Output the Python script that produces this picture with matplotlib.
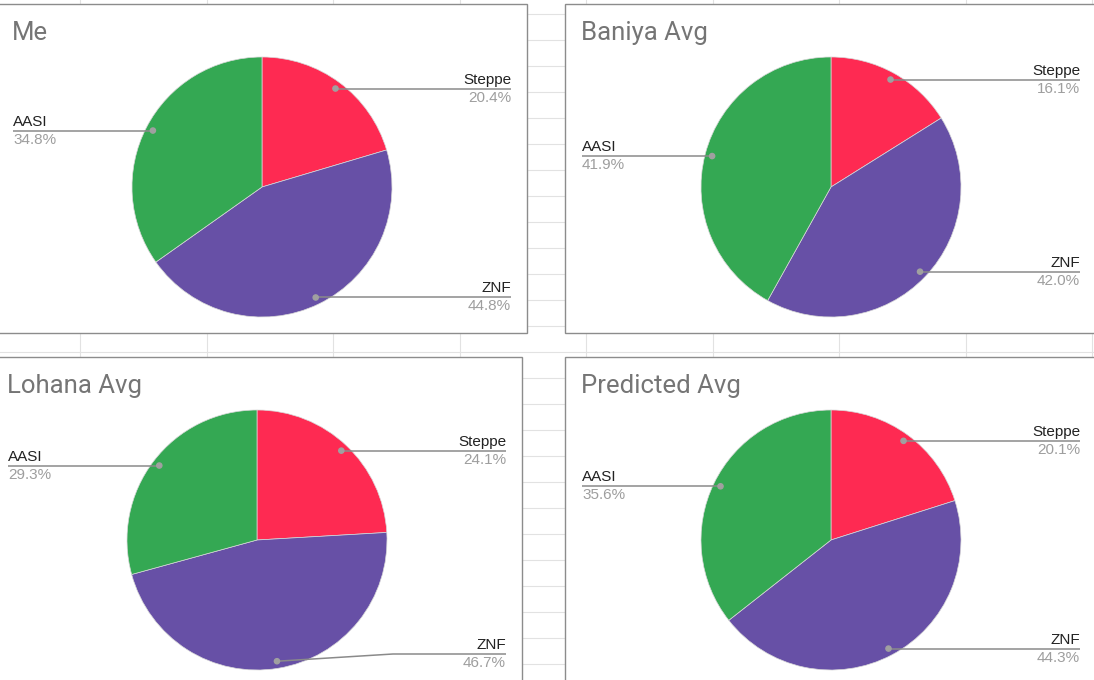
import numpy as np
import matplotlib
matplotlib.use("Agg")
import matplotlib.pyplot as plt
from matplotlib.patches import Rectangle, Circle

plt.rcParams['font.family'] = ['Roboto', 'DejaVu Sans']

# data
components = ["Steppe", "ZNF", "AASI"]
titles = ["Me", "Baniya Avg", "Lohana Avg", "Predicted Avg"]
me = [20.4, 44.8, 34.8]
baniya_avg = [16.1, 42.0, 41.9]
lohana_avg = [24.1, 46.7, 29.3]
predicted_avg = [20.1, 44.3, 35.6]
colors = ["#fe2a52", "#6750a6", "#34a853"]

W, H = 1094, 680
fig = plt.figure(figsize=(W / 100, H / 100), dpi=100)
ax = fig.add_axes([0, 0, 1, 1])
ax.set_xlim(0, W)
ax.set_ylim(0, H)
ax.set_aspect('equal')
ax.axis('off')


def Y(p):
    # pixel row (from top) -> data y
    return H - p


# spreadsheet gridlines in the background
for gx in np.arange(80, W, 126.5):
    ax.plot([gx, gx], [0, H], color="#e2e2e2", lw=0.8, zorder=0)
for gy in np.arange(14, H, 26):
    ax.plot([0, W], [Y(gy), Y(gy)], color="#e2e2e2", lw=0.8, zorder=0)

# chart centres (pixels from top-left) and radius
centres = [(262, 187), (831, 187), (257, 540), (831, 540)]
R = 130
series = [me, baniya_avg, lohana_avg, predicted_avg]
label_font = ['Liberation Sans', 'DejaVu Sans']

for title, vals, (cx, cy) in zip(titles, series, centres):
    # chart card
    ax.add_patch(Rectangle((cx - 266, Y(cy + 146)), 531, 329, facecolor="white",
                           edgecolor="#8c8c8c", lw=1.0, zorder=1))
    ax.text(cx - 250, Y(cy - 154), title, fontsize=18.5, color="#757575",
            ha="left", va="center", zorder=5)

    ax.pie(vals, colors=colors, center=(cx, Y(cy)), radius=R, startangle=90,
           counterclock=False, frame=True,
           wedgeprops=dict(edgecolor="#d8d8d8", linewidth=0.5, zorder=2))

    # leader lines and labels
    total = sum(vals)
    start = 0.0
    for name, v in zip(components, vals):
        mid = (start + v / 2) / total * 2 * np.pi
        start += v
        dx, dy = np.sin(mid), np.cos(mid)
        px, py = cx + 0.945 * R * dx, cy - 0.945 * R * dy
        right = dx > 0
        lx = cx + 249 if right else cx - 249
        ly = min(py, cy + 114)
        if ly < py:
            ex = cx + 136 if right else cx - 136
            xs, ys = [px, ex, lx], [py, ly, ly]
        else:
            xs, ys = [px, lx], [py, ly]
        ax.plot(xs, [Y(y) for y in ys], color="#8a8a8a", lw=1.1, zorder=4,
                solid_capstyle="butt")
        ax.add_patch(Circle((px, Y(py)), 2.6, color="#a0a0a0", zorder=5))
        ha = "right" if right else "left"
        ax.text(lx, Y(ly) + 2, name, fontsize=11, color="#222222",
                ha=ha, va="bottom", zorder=5, family=label_font)
        ax.text(lx, Y(ly) - 2, f"{v:.1f}%", fontsize=11, color="#9e9e9e",
                ha=ha, va="top", zorder=5, family=label_font)

ax.set_xlim(0, W)
ax.set_ylim(0, H)
fig.savefig("out.png", dpi=100)
